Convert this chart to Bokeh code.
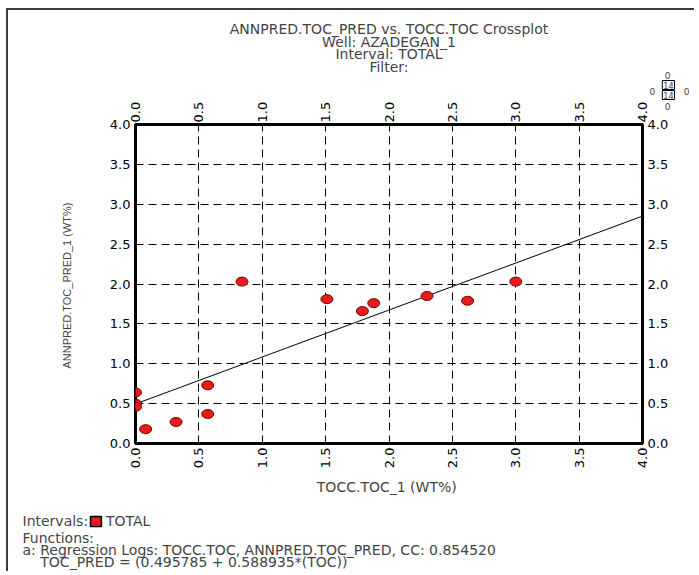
import math
from bokeh.plotting import figure
from bokeh.models import Range1d, FixedTicker, LinearAxis, NumeralTickFormatter, Title
from bokeh.embed import file_html
from bokeh.resources import INLINE

# ---- data ----
toc = [0.0, 0.0, 0.0, 0.08, 0.32, 0.57, 0.57, 0.84, 1.51, 1.79, 1.88, 2.30, 2.62, 3.00]
toc_pred = [0.64, 0.50, 0.46, 0.18, 0.27, 0.37, 0.73, 2.03, 1.81, 1.66, 1.76, 1.85, 1.79, 2.03]
ticks = [0.0, 0.5, 1.0, 1.5, 2.0, 2.5, 3.0, 3.5, 4.0]
reg_intercept = 0.495785
reg_slope = 0.588935
reg_cc = 0.854520
n_points = 14
n_outside = 0

title_lines = ["ANNPRED.TOC_PRED vs. TOCC.TOC Crossplot",
               "Well: AZADEGAN_1",
               "Interval: TOTAL",
               "Filter:"]
x_title = "TOCC.TOC_1  (WT%)"
y_title = "ANNPRED.TOC_PRED_1  (WT%)"
interval_name = "TOTAL"
interval_color = "#e81c1c"

FONT = "DejaVu Sans"
NARROW = "Liberation Sans"
NB = "\u00a0"

p = figure(width=688, height=563, output_backend="svg", toolbar_location=None,
           x_range=Range1d(0, 4), y_range=Range1d(0, 4),
           min_border_left=127, min_border_right=54, min_border_top=114, min_border_bottom=130,
           x_axis_location=None, y_axis_location=None)
p.styles = {"margin-left": "6px", "margin-top": "8px",
            "border-top": "2px solid #3c3c3c", "border-left": "2px solid #3c3c3c"}
p.background_fill_color = "white"
p.border_fill_color = "white"
p.outline_line_color = "black"
p.outline_line_width = 3

def make_axis(loc):
    ax = LinearAxis(ticker=FixedTicker(ticks=ticks), formatter=NumeralTickFormatter(format="0.0"))
    ax.axis_line_color = None
    ax.major_tick_line_color = None
    ax.minor_tick_line_color = None
    ax.major_tick_in = 0
    ax.major_tick_out = 0
    ax.major_label_text_font = FONT
    ax.major_label_text_font_size = "13px"
    ax.major_label_text_color = "black"
    if loc == "below":
        ax.major_label_orientation = math.pi / 2
        ax.major_label_standoff = 4
    elif loc == "above":
        ax.major_label_orientation = math.pi / 2
        ax.major_label_standoff = 2
    else:
        ax.major_label_standoff = 5
    p.add_layout(ax, loc)
    return ax

axes = {loc: make_axis(loc) for loc in ("left", "right", "above", "below")}
axes["below"].axis_label = x_title
axes["below"].axis_label_text_font = FONT
axes["below"].axis_label_text_font_size = "14px"
axes["below"].axis_label_text_font_style = "normal"
axes["below"].axis_label_standoff = 8
axes["left"].axis_label = y_title
axes["left"].axis_label_text_font = NARROW
axes["left"].axis_label_text_font_size = "11px"
axes["left"].axis_label_text_font_style = "normal"
axes["left"].axis_label_standoff = 34

p.xgrid.ticker = FixedTicker(ticks=ticks)
p.ygrid.ticker = FixedTicker(ticks=ticks)
for g in (p.xgrid, p.ygrid):
    g.grid_line_color = "black"
    g.grid_line_dash = "8 5"
    g.grid_line_width = 1

# regression line
xs = [ticks[0], ticks[-1]]
ys = [reg_intercept + reg_slope * x for x in xs]
p.line(xs, ys, line_color="black", line_width=1)

# points
p.ellipse(x=toc, y=toc_pred, width=12, height=9, width_units="screen", height_units="screen",
          fill_color=interval_color, line_color="#7a0000", line_width=1)

def title(text, side, standoff, size="14px", align="center", offset=0, **kw):
    p.add_layout(Title(text=text, align=align, offset=offset, text_font=FONT,
                       text_font_size=size, text_font_style="normal", standoff=standoff,
                       **kw), side)

# ---- above (first added = nearest the frame) ----
box = dict(border_line_color="black", border_line_width=1, background_fill_color="white",
           padding=1)
title(str(n_points), "above", -2, size="8px", align="right", offset=-32, **box)
title(str(n_points), "above", 0, size="8px", align="right", offset=-32, **box)
title(str(n_outside), "above", 0, size="9px", align="right", offset=-28)
title(title_lines[3], "above", -10)
title(title_lines[2], "above", -1)
title(title_lines[1], "above", -10)
title(title_lines[0], "above", -1)
# zeros beside and below the count box (zero-height rows folded back over the box)
title(str(n_outside) + NB * 10 + str(n_outside), "above", -154, size="9px", align="right",
      offset=-47)
title(str(n_outside), "above", -180, size="9px", align="right", offset=-28)

# ---- below ----
title("Intervals:" + NB * 4 + interval_name, "below", 24, align="left", offset=-113)
func_lines = ["Functions:",
              "a: Regression Logs: TOCC.TOC, ANNPRED.TOC_PRED, CC: %.6f" % reg_cc,
              NB * 4 + "TOC_PRED = (%.6f + %.6f*(TOC))" % (reg_intercept, reg_slope)]
title("\n".join(func_lines), "below", -22, align="left", offset=-113, text_line_height=0.78,
      vertical_align="top")
# interval colour swatch folded back onto the "Intervals:" row
title(NB * 4, "below", -90, size="7px", align="left", offset=-45, vertical_align="top",
      background_fill_color=interval_color, border_line_color="black", border_line_width=1.5,
      padding=1)

open("out.html", "w").write(file_html(p, INLINE))
